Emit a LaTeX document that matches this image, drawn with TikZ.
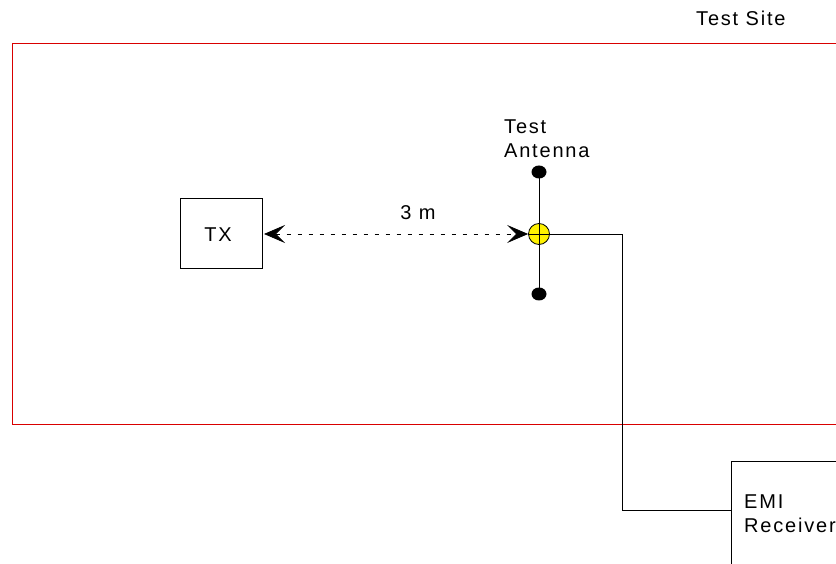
\documentclass[tikz,border=0pt]{standalone}
\usepackage{fontspec}
\setmainfont{Liberation Sans}[LetterSpace=9]
\usetikzlibrary{arrows.meta,shapes.geometric}
\begin{document}
\begin{tikzpicture}[x=1pt,y=-1pt,
  lbl/.style={font=\fontsize{20}{24}\selectfont, inner sep=0pt},
  boxst/.style={draw=black, line width=0.8pt},
  wire/.style={draw=black, line width=0.8pt},
  dot/.style={fill=black, ellipse, minimum width=15pt, minimum height=13pt, inner sep=0pt}]
\useasboundingbox (0,0) rectangle (836,564);
\clip (0,0) rectangle (836,564);
% test site
\draw[red!85!black, line width=0.8pt] (12,43) rectangle (860,424);
\node[lbl, anchor=base west] (site) at (696,26) {Test Site};
% TX
\draw[boxst] (180,198) rectangle (262,268);
\coordinate (txe) at (264,234);
\node[lbl, anchor=base] (tx) at (218,242) {TX};
% antenna
\coordinate (ant) at (539,234);
\node[dot] (top) at (539,172) {};
\node[dot] (bot) at (539,294) {};
\draw[wire] (top.center) -- (bot.center);
\node[circle, draw=black, fill=yellow, minimum size=21pt, inner sep=0pt, line width=0.8pt] (antc) at (ant) {};
\draw[wire] (antc.center) -- (antc.south) (antc.center) -- (antc.north) (antc.center) -- (antc.west);
\node[lbl, anchor=base west, align=left] (antlbl) at (504,158) {Test\\Antenna};
\node[lbl, anchor=base] (dist) at (418,220) {3 m};
\draw[dash pattern=on 4pt off 7pt, line width=0.8pt, {Stealth[length=21pt,width=18pt,inset=9pt]}-{Stealth[length=21pt,width=18pt,inset=9pt]}] (txe) -- (antc.west);
% receiver
\draw[boxst] (731,461) rectangle (860,580);
\coordinate (rx) at (731,510);
\node[lbl, anchor=base west, align=left] (rxlbl) at (744,532) {EMI\\Receiver};
\draw[wire] (antc.center) -- (622,234) -- (622,510) -- (rx);
\end{tikzpicture}
\end{document}
